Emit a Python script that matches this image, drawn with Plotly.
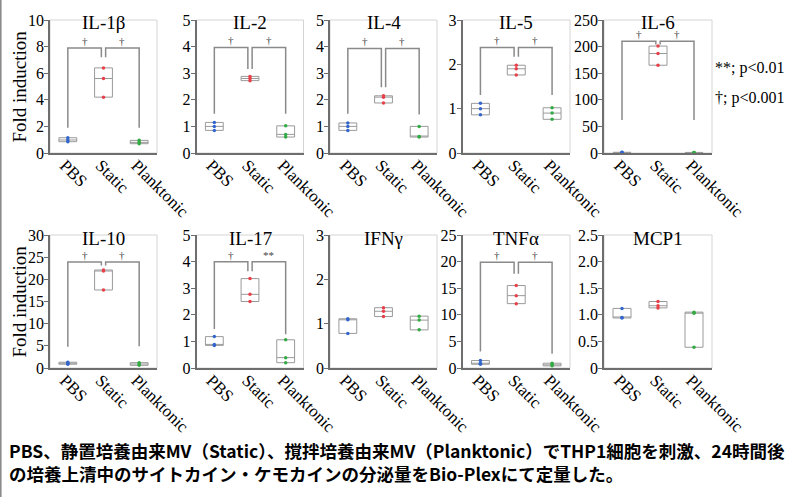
import plotly.graph_objects as go

W, H = 801, 497

groups = ["PBS", "Static", "Planktonic"]
group_colors = ["#3366cc", "#e8404a", "#33aa44"]
titles = ["IL-1β", "IL-2", "IL-4", "IL-5", "IL-6", "IL-10", "IL-17", "IFNγ", "TNFα", "MCP1"]

# ---- fold-induction values (n = 3 per group) ----
il1b_pbs, il1b_static, il1b_plank = [0.85, 0.98, 1.15], [4.2, 5.6, 6.4], [0.7, 0.8, 0.95]
il2_pbs, il2_static, il2_plank = [0.85, 1.0, 1.15], [2.72, 2.8, 2.88], [0.6, 0.7, 1.02]
il4_pbs, il4_static, il4_plank = [0.85, 1.0, 1.13], [1.88, 2.1, 2.15], [0.6, 0.62, 1.0]
il5_pbs, il5_static, il5_plank = [0.86, 1.0, 1.12], [1.76, 1.9, 1.98], [0.76, 0.9, 1.02]
il6_pbs, il6_static, il6_plank = [0.8, 1.0, 1.3], [165, 187, 201], [0.7, 0.9, 1.1]
il10_pbs, il10_static, il10_plank = [0.85, 1.0, 1.3], [17.6, 21.9, 22.1], [0.6, 0.9, 1.2]
il17_pbs, il17_static, il17_plank = [0.85, 0.88, 1.18], [2.5, 2.77, 3.36], [0.2, 0.39, 1.06]
ifng_pbs, ifng_static, ifng_plank = [0.78, 1.09, 1.11], [1.16, 1.28, 1.36], [0.86, 1.08, 1.17]
tnfa_pbs, tnfa_static, tnfa_plank = [0.7, 0.9, 1.4], [12.1, 13.6, 15.5], [0.4, 0.55, 0.9]
mcp1_pbs, mcp1_static, mcp1_plank = [0.94, 0.95, 1.12], [1.13, 1.17, 1.25], [0.39, 1.03, 1.05]

# ---- y tick values / labels ----
yt_il1b = [0, 2, 4, 6, 8, 10]
yt_il2 = [0, 1, 2, 3, 4, 5]
yt_il4 = [0, 1, 2, 3, 4, 5]
yt_il5 = [0, 1, 2, 3]
yt_il6 = [0, 50, 100, 150, 200, 250]
yt_il10 = [0, 5, 10, 15, 20, 25, 30]
yt_il17 = [0, 1, 2, 3, 4, 5]
yt_ifng = [0, 1, 2, 3]
yt_tnfa = [0, 5, 10, 15, 20, 25]
yt_mcp1 = [0, 0.5, 1.0, 1.5, 2.0, 2.5]
yl_mcp1 = ["0", "0.5", "1.0", "1.5", "2.0", "2.5"]

# ---- significance brackets: [PBS drop, Static drop, Planktonic drop, bar level, left mark, right mark] ----
sig_il1b = [1.9, 7.2, 1.9, 7.9, "†", "†"]
sig_il2 = [1.48, 3.16, 1.48, 3.97, "†", "†"]
sig_il4 = [1.48, 2.47, 1.45, 3.93, "†", "†"]
sig_il5 = [1.31, 2.17, 1.31, 2.38, "†", "†"]
sig_il6 = [62, 204, 62, 210, "†", "†"]
sig_il10 = [4.8, 23.1, 4.9, 23.9, "†", "†"]
sig_il17 = [1.47, 3.64, 1.27, 3.99, "†", "**"]
sig_tnfa = [3.1, 17.7, 2.7, 19.9, "†", "†"]

legend_lines = ["**; p<0.01", "†; p<0.001"]
caption_lines = [
    "PBS、静置培養由来MV（Static）、撹拌培養由来MV（Planktonic）でTHP1細胞を刺激、24時間後",
    "の培養上清中のサイトカイン・ケモカインの分泌量をBio-Plexにて定量した。",
]

panels = [
    ([il1b_pbs, il1b_static, il1b_plank], yt_il1b, None, sig_il1b),
    ([il2_pbs, il2_static, il2_plank], yt_il2, None, sig_il2),
    ([il4_pbs, il4_static, il4_plank], yt_il4, None, sig_il4),
    ([il5_pbs, il5_static, il5_plank], yt_il5, None, sig_il5),
    ([il6_pbs, il6_static, il6_plank], yt_il6, None, sig_il6),
    ([il10_pbs, il10_static, il10_plank], yt_il10, None, sig_il10),
    ([il17_pbs, il17_static, il17_plank], yt_il17, None, sig_il17),
    ([ifng_pbs, ifng_static, ifng_plank], yt_ifng, None, None),
    ([tnfa_pbs, tnfa_static, tnfa_plank], yt_tnfa, None, sig_tnfa),
    ([mcp1_pbs, mcp1_static, mcp1_plank], yt_mcp1, yl_mcp1, None),
]

# ---- layout geometry (pixels) ----
col_left = [50, 196.5, 330, 462.5, 604]
col_right = [157, 303.5, 437, 570, 712]
row_top = [20, 235]
row_bottom = [153, 368]

SERIF = "Liberation Serif"
AX = "#6e6e6e"
BR = "#8a8a8a"

fig = go.Figure()
layout = dict(
    width=W, height=H, margin=dict(l=0, r=0, t=0, b=0, autoexpand=False),
    paper_bgcolor="white", plot_bgcolor="white", showlegend=False,
    font=dict(family=SERIF, color="black"),
)
shapes, annotations = [], []

for k, (series, yt, yl, sig) in enumerate(panels):
    r, c = divmod(k, 5)
    n = k + 1
    xa = "xaxis" if n == 1 else f"xaxis{n}"
    ya = "yaxis" if n == 1 else f"yaxis{n}"
    xr = "x" if n == 1 else f"x{n}"
    yr = "y" if n == 1 else f"y{n}"
    layout[xa] = dict(
        domain=[col_left[c] / W, col_right[c] / W], anchor=yr, automargin=False,
        range=[-0.5, 2.5], tickvals=[0, 1, 2], ticktext=groups, tickangle=45,
        ticklabelstandoff=-6, ticklabelshift=-3,
        showline=True, linecolor=AX, linewidth=1.5, ticks="", showgrid=False, zeroline=False,
        tickfont=dict(family=SERIF, size=17, color="black"),
    )
    layout[ya] = dict(
        domain=[1 - row_bottom[r] / H, 1 - row_top[r] / H], anchor=xr, automargin=False,
        range=[0, yt[-1]], tickvals=yt, ticktext=yl if yl else [str(v) for v in yt],
        showline=True, linecolor=AX, linewidth=1.5, ticks="outside", ticklen=4,
        tickcolor=AX, tickwidth=1.2, showgrid=False, zeroline=False, ticklabelstandoff=-3,
        tickfont=dict(family=SERIF, size=16, color="black"),
    )
    # light frame (top/right)
    shapes.append(dict(type="rect", xref=f"{xr} domain", yref=f"{yr} domain",
                       x0=0, x1=1, y0=0, y1=1, line=dict(color="#d4d4d4", width=1), layer="below"))
    for g, vals in enumerate(series):
        fig.add_trace(go.Box(
            x=[g] * len(vals), y=vals, width=0.5, quartilemethod="exclusive",
            boxpoints="all", jitter=0, pointpos=0, fillcolor="white",
            line=dict(color="#9a9a9a", width=1), whiskerwidth=0,
            marker=dict(color=group_colors[g], size=3.5),
            xaxis=xr, yaxis=yr, hoverinfo="y",
        ))
    annotations.append(dict(text=titles[k], xref=f"{xr} domain", yref=f"{yr} domain",
                            x=0.5, y=1, yshift=-2 if r == 0 else -3, xanchor="center", yanchor="middle",
                            showarrow=False, font=dict(family=SERIF, size=19, color="black")))
    if sig:
        pbs_d, st_d, pl_d, bar, lm, rm = sig
        off = 0.06
        shapes.append(dict(type="path", xref=xr, yref=yr,
                           path=f"M 0 {pbs_d} L 0 {bar} L {1 - off} {bar} L {1 - off} {st_d}",
                           line=dict(color=BR, width=1.5)))
        shapes.append(dict(type="path", xref=xr, yref=yr,
                           path=f"M {1 + off} {st_d} L {1 + off} {bar} L 2 {bar} L 2 {pl_d}",
                           line=dict(color=BR, width=1.5)))
        for xm, txt in [((1 - off) / 2, lm), ((3 + off) / 2, rm)]:
            annotations.append(dict(text=txt, xref=xr, yref=yr, x=xm, y=bar, xanchor="center",
                                    yanchor="bottom", yshift=-1, showarrow=False,
                                    font=dict(family=SERIF, size=11, color="#444444")))

# y-axis titles
for r in range(2):
    annotations.append(dict(text="Fold induction", xref="paper", yref="paper",
                            x=19 / W, y=1 - (row_top[r] + row_bottom[r]) / 2 / H,
                            xanchor="center", yanchor="middle", textangle=-90, showarrow=False,
                            font=dict(family=SERIF, size=19, color="black")))

# significance legend
for i, t in enumerate(legend_lines):
    annotations.append(dict(text=t, xref="paper", yref="paper", x=713 / W, y=1 - (68 + 30 * i) / H,
                            xanchor="left", yanchor="middle", showarrow=False,
                            font=dict(family=SERIF, size=16, color="black")))

# caption
annotations.append(dict(text="<b>" + "<br>".join(caption_lines) + "</b>", xref="paper", yref="paper",
                        x=7 / W, y=1 - 462 / H, xanchor="left", yanchor="middle", align="left",
                        showarrow=False,
                        font=dict(family="Noto Sans CJK JP", size=17.5, color="black")))

# left border line
shapes.append(dict(type="line", xref="paper", yref="paper", x0=0.8 / W, x1=0.8 / W, y0=0, y1=1,
                   line=dict(color="#8c8c8c", width=1.6)))

layout["shapes"] = shapes
layout["annotations"] = annotations
fig.update_layout(**layout)
fig.write_html("out.html", config={"displayModeBar": False},
               post_script="document.body.style.margin='0px';")
